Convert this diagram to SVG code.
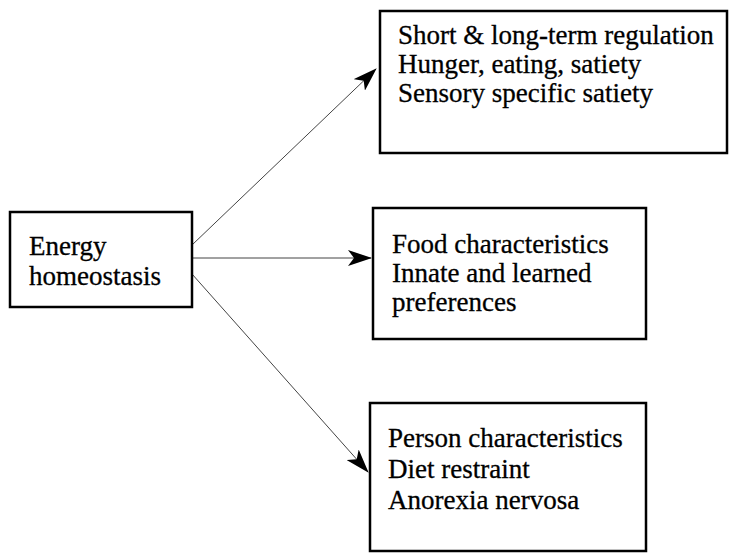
<svg xmlns="http://www.w3.org/2000/svg" width="729" height="553" viewBox="0 0 729 553">
  <defs>
    <style>
      .box { fill: #fff; stroke: #000; stroke-width: 2.5; }
      .label { font-family: "Liberation Serif", "Times New Roman", serif; font-size: 27px; fill: #000; stroke: #000; stroke-width: 0.3; }
      .link { stroke: #444; stroke-width: 1; fill: none; marker-end: url(#head); }
    </style>
    <marker id="head" viewBox="0 0 24 16" refX="23" refY="8" markerWidth="24" markerHeight="16" markerUnits="userSpaceOnUse" orient="auto">
      <path d="M0,0 L24,8 L0,16 L6,8 Z" fill="#000"/>
    </marker>
  </defs>
  <rect width="729" height="553" fill="#fff"/>

  <g id="connectors">
    <line class="link" x1="192" y1="245" x2="376" y2="69"/>
    <line class="link" x1="192" y1="258" x2="371" y2="258"/>
    <line class="link" x1="192" y1="274" x2="368" y2="472"/>
  </g>

  <g id="energy">
    <rect class="box" x="10" y="212" width="182" height="95"/>
    <text class="label" x="29" y="255">Energy</text>
    <text class="label" x="29" y="285">homeostasis</text>
  </g>

  <g id="regulation">
    <rect class="box" x="380" y="11" width="347" height="142"/>
    <text class="label" x="398" y="44">Short &amp; long-term regulation</text>
    <text class="label" x="398" y="73">Hunger, eating, satiety</text>
    <text class="label" x="398" y="102">Sensory specific satiety</text>
  </g>

  <g id="food">
    <rect class="box" x="373" y="208" width="273" height="131"/>
    <text class="label" x="392" y="253">Food characteristics</text>
    <text class="label" x="392" y="282">Innate and learned</text>
    <text class="label" x="392" y="311">preferences</text>
  </g>

  <g id="person">
    <rect class="box" x="370" y="403" width="276" height="148"/>
    <text class="label" x="388" y="447">Person characteristics</text>
    <text class="label" x="388" y="478">Diet restraint</text>
    <text class="label" x="388" y="509">Anorexia nervosa</text>
  </g>
</svg>
